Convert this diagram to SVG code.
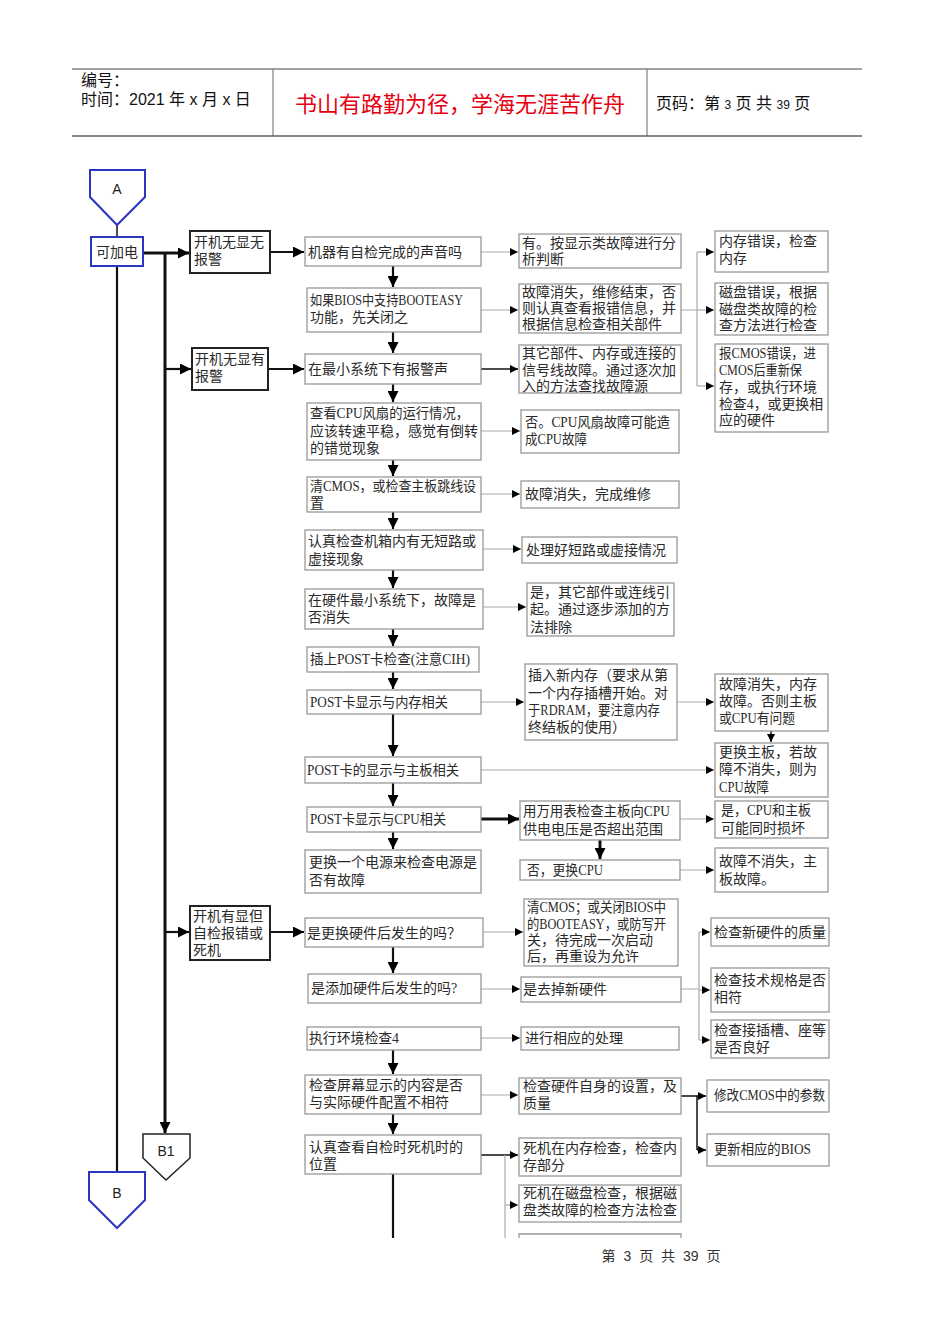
<svg xmlns="http://www.w3.org/2000/svg" width="950" height="1344" viewBox="0 0 950 1344">
<style>
.box{fill:#fff;stroke:#999;stroke-width:1.3}
.tbox{fill:#fff;stroke:#222;stroke-width:2}
.bbox{fill:#fff;stroke:#2a35c0;stroke-width:2}
.t{font-family:"Liberation Serif","Noto Sans CJK SC",serif;font-size:14px;fill:#2a2a2a}
.h{font-family:"Liberation Sans","Noto Sans CJK SC",sans-serif;fill:#111}
.g{stroke:#aaa;stroke-width:1.2;fill:none}
.k1{stroke:#111;stroke-width:1.5;fill:none}
.k2{stroke:#111;stroke-width:2.2;fill:none}
.k3{stroke:#111;stroke-width:3;fill:none}
.ga{stroke:#aaa;stroke-width:1.2;fill:none;marker-end:url(#as)}
.k1a{stroke:#111;stroke-width:1.5;fill:none;marker-end:url(#as)}
.k2a{stroke:#111;stroke-width:2.2;fill:none;marker-end:url(#al)}
.k3a{stroke:#111;stroke-width:3;fill:none;marker-end:url(#al)}
.lbl{font-family:"Liberation Sans",sans-serif;font-size:14px;fill:#222;text-anchor:middle}
</style>
<defs>
<marker id="al" viewBox="0 0 10 10" refX="10" refY="5" markerWidth="11" markerHeight="11" markerUnits="userSpaceOnUse" orient="auto"><path d="M0,0 L10,5 L0,10 z" fill="#000"/></marker>
<marker id="as" viewBox="0 0 10 10" refX="10" refY="5" markerWidth="8" markerHeight="8" markerUnits="userSpaceOnUse" orient="auto"><path d="M0,0 L10,5 L0,10 z" fill="#000"/></marker>
</defs>
<rect width="950" height="1344" fill="#fff"/>

<g id="header">
<path d="M72,69 H862" stroke="#444" stroke-width="1"/>
<path d="M72,136 H862" stroke="#888" stroke-width="2"/>
<path d="M273,69 V136 M647,69 V136" stroke="#666" stroke-width="1"/>
<text class="h" x="81" y="86" font-size="16">编号：</text>
<text class="h" x="81" y="105" font-size="16">时间：2021 年 x 月 x 日</text>
<text x="460" y="112" font-family="Liberation Sans,Noto Sans CJK SC,sans-serif" font-size="22" fill="#e60012" text-anchor="middle">书山有路勤为径，学海无涯苦作舟</text>
<text class="h" x="656" y="109" font-size="16">页码：第 <tspan font-size="12">3</tspan> 页  共 <tspan font-size="12">39</tspan> 页</text>
</g>

<g id="connectors">
<path class="k1" d="M117,225 V237"/>
<path class="k2" d="M117,266 V1172"/>
<path class="k3a" d="M143,253 H189"/>
<path class="k3a" d="M165,253 V1133"/>
<path class="k2a" d="M165,369 H191"/>
<path class="k2a" d="M165,932 H189"/>
<path class="k2a" d="M270,252 H304"/>
<path class="k2a" d="M268,369 H304"/>
<path class="k2a" d="M270,932 H304"/>
<path class="k2a" d="M393,266 V287"/>
<path class="k2a" d="M393,332 V353"/>
<path class="k2a" d="M393,384 V402"/>
<path class="k2a" d="M393,460 V476"/>
<path class="k2a" d="M393,512 V529"/>
<path class="k2a" d="M393,570 V588"/>
<path class="k2a" d="M393,629 V646"/>
<path class="k2a" d="M393,672 V689"/>
<path class="k2a" d="M393,714 V756"/>
<path class="k2a" d="M393,783 V806"/>
<path class="k2a" d="M393,832 V849"/>
<path class="k2a" d="M393,947 V973"/>
<path class="k2a" d="M393,1050 V1074"/>
<path class="k2a" d="M393,1114 V1134"/>
<path class="k2" d="M393,1174 V1238"/>
<path class="ga" d="M481,252 H518"/>
<path class="ga" d="M481,310 H518"/>
<path class="k1a" d="M481,369 H518"/>
<path class="ga" d="M481,431 H520"/>
<path class="ga" d="M481,494 H520"/>
<path class="ga" d="M483,549 H521"/>
<path class="ga" d="M483,607 H526"/>
<path class="ga" d="M481,702 H524"/>
<path class="ga" d="M677,702 H714"/>
<path class="ga" d="M481,770 H714"/>
<path class="k1a" d="M771,731 V742"/>
<path class="k3a" d="M481,819 H519"/>
<path class="k3a" d="M600,840 V859"/>
<path class="ga" d="M680,819 H714"/>
<path class="ga" d="M680,870 H714"/>
<path class="g" d="M681,310 H697 M697,252 V386"/>
<path class="ga" d="M697,252 H714"/>
<path class="ga" d="M697,310 H714"/>
<path class="ga" d="M697,386 H714"/>
<path class="ga" d="M483,932 H523"/>
<path class="ga" d="M481,989 H520"/>
<path class="ga" d="M481,1038 H520"/>
<path class="g" d="M681,989 H699 M699,932 V1040"/>
<path class="ga" d="M699,932 H710"/>
<path class="ga" d="M699,990 H710"/>
<path class="ga" d="M699,1040 H710"/>
<path class="ga" d="M481,1095 H518"/>
<path class="k1" d="M681,1096 H697 V1150"/>
<path class="k1a" d="M697,1096 H706"/>
<path class="k1a" d="M697,1150 H706"/>
<path class="k1" d="M481,1155 H505"/>
<path class="k1a" d="M505,1155 H518"/>
<path class="g" d="M505,1155 V1238"/>
<path class="ga" d="M505,1205 H518"/>
</g>

<g id="nA"><polygon class="bbox" points="90,170 145,170 145,197 117,225 90,197"/><text class="lbl" x="117" y="194">A</text></g>
<g id="nB"><polygon class="bbox" points="89,1172 145,1172 145,1200 117,1228 89,1200"/><text class="lbl" x="117" y="1198">B</text></g>
<g id="nB1"><polygon fill="#fff" stroke="#222" stroke-width="1.5" points="143,1134 190,1134 190,1158 166,1180 143,1158"/><text class="lbl" x="166" y="1156">B1</text></g>
<g id="n0"><rect class="bbox" x="91" y="237" width="52" height="29"/><text class="t" x="117" y="257" text-anchor="middle">可加电</text></g>

<g id="L1"><rect class="tbox" x="190" y="231" width="80" height="42"/><text class="t" x="194" y="247">开机无显无</text><text class="t" x="194" y="264">报警</text></g>
<g id="L2"><rect class="tbox" x="192" y="348" width="76" height="42"/><text class="t" x="195" y="364">开机无显有</text><text class="t" x="195" y="381">报警</text></g>
<g id="L3"><rect class="tbox" x="190" y="906" width="80" height="54"/><text class="t" x="193" y="921">开机有显但</text><text class="t" x="193" y="938">自检报错或</text><text class="t" x="193" y="955">死机</text></g>

<g id="M1"><rect class="box" x="305" y="237" width="176" height="29"/><text class="t" x="308" y="257">机器有自检完成的声音吗</text></g>
<g id="M2"><rect class="box" x="307" y="288" width="174" height="44"/><text class="t" x="310" y="305" textLength="153" lengthAdjust="spacingAndGlyphs">如果BIOS中支持BOOTEASY</text><text class="t" x="310" y="322">功能，先关闭之</text></g>
<g id="M3"><rect class="box" x="305" y="354" width="176" height="30"/><text class="t" x="308" y="374">在最小系统下有报警声</text></g>
<g id="M4"><rect class="box" x="307" y="403" width="174" height="57"/><text class="t" x="310" y="418" textLength="159" lengthAdjust="spacingAndGlyphs">查看CPU风扇的运行情况，</text><text class="t" x="310" y="436">应该转速平稳，感觉有倒转</text><text class="t" x="310" y="453">的错觉现象</text></g>
<g id="M5"><rect class="box" x="307" y="477" width="174" height="35"/><text class="t" x="310" y="491" textLength="166" lengthAdjust="spacingAndGlyphs">清CMOS，或检查主板跳线设</text><text class="t" x="310" y="508">置</text></g>
<g id="M6"><rect class="box" x="305" y="530" width="178" height="40"/><text class="t" x="308" y="546">认真检查机箱内有无短路或</text><text class="t" x="308" y="564">虚接现象</text></g>
<g id="M7"><rect class="box" x="305" y="589" width="178" height="40"/><text class="t" x="308" y="605">在硬件最小系统下，故障是</text><text class="t" x="308" y="622">否消失</text></g>
<g id="M8"><rect class="box" x="307" y="647" width="172" height="25"/><text class="t" x="310" y="664" textLength="160" lengthAdjust="spacingAndGlyphs">插上POST卡检查(注意CIH)</text></g>
<g id="M9"><rect class="box" x="307" y="690" width="174" height="24"/><text class="t" x="310" y="707" textLength="138" lengthAdjust="spacingAndGlyphs">POST卡显示与内存相关</text></g>
<g id="M10"><rect class="box" x="305" y="757" width="176" height="26"/><text class="t" x="307" y="775" textLength="152" lengthAdjust="spacingAndGlyphs">POST卡的显示与主板相关</text></g>
<g id="M11"><rect class="box" x="307" y="807" width="174" height="25"/><text class="t" x="310" y="824" textLength="136" lengthAdjust="spacingAndGlyphs">POST卡显示与CPU相关</text></g>
<g id="M12"><rect class="box" x="305" y="850" width="176" height="43"/><text class="t" x="309" y="867">更换一个电源来检查电源是</text><text class="t" x="309" y="885">否有故障</text></g>
<g id="M13"><rect class="box" x="305" y="918" width="178" height="29"/><text class="t" x="307" y="938">是更换硬件后发生的吗？</text></g>
<g id="M14"><rect class="box" x="308" y="974" width="173" height="29"/><text class="t" x="311" y="993">是添加硬件后发生的吗?</text></g>
<g id="M15"><rect class="box" x="307" y="1027" width="174" height="23"/><text class="t" x="309" y="1043" textLength="90" lengthAdjust="spacingAndGlyphs">执行环境检查4</text></g>
<g id="M16"><rect class="box" x="305" y="1075" width="176" height="39"/><text class="t" x="309" y="1090">检查屏幕显示的内容是否</text><text class="t" x="309" y="1107">与实际硬件配置不相符</text></g>
<g id="M17"><rect class="box" x="305" y="1135" width="176" height="39"/><text class="t" x="309" y="1152">认真查看自检时死机时的</text><text class="t" x="309" y="1169">位置</text></g>

<g id="R1"><rect class="box" x="519" y="234" width="162" height="34"/><text class="t" x="522" y="248">有。按显示类故障进行分</text><text class="t" x="522" y="264">析判断</text></g>
<g id="R2"><rect class="box" x="519" y="284" width="162" height="49"/><text class="t" x="522" y="297">故障消失，维修结束，否</text><text class="t" x="522" y="313">则认真查看报错信息，并</text><text class="t" x="522" y="329">根据信息检查相关部件</text></g>
<g id="R3"><rect class="box" x="519" y="345" width="162" height="48"/><text class="t" x="522" y="358">其它部件、内存或连接的</text><text class="t" x="522" y="375">信号线故障。通过逐次加</text><text class="t" x="522" y="391">入的方法查找故障源</text></g>
<g id="R4"><rect class="box" x="521" y="410" width="158" height="43"/><text class="t" x="525" y="427" textLength="145" lengthAdjust="spacingAndGlyphs">否。CPU风扇故障可能造</text><text class="t" x="525" y="444" textLength="62" lengthAdjust="spacingAndGlyphs">成CPU故障</text></g>
<g id="R5"><rect class="box" x="521" y="481" width="158" height="27"/><text class="t" x="525" y="499">故障消失，完成维修</text></g>
<g id="R6"><rect class="box" x="522" y="537" width="155" height="26"/><text class="t" x="526" y="555">处理好短路或虚接情况</text></g>
<g id="R7"><rect class="box" x="527" y="583" width="147" height="53"/><text class="t" x="530" y="597">是，其它部件或连线引</text><text class="t" x="530" y="614">起。通过逐步添加的方</text><text class="t" x="530" y="632">法排除</text></g>
<g id="R8"><rect class="box" x="525" y="664" width="152" height="76"/><text class="t" x="528" y="680">插入新内存（要求从第</text><text class="t" x="528" y="698">一个内存插槽开始。对</text><text class="t" x="528" y="715" textLength="132" lengthAdjust="spacingAndGlyphs">于RDRAM，要注意内存</text><text class="t" x="528" y="732">终结板的使用）</text></g>
<g id="R9"><rect class="box" x="520" y="801" width="160" height="39"/><text class="t" x="523" y="816" textLength="147" lengthAdjust="spacingAndGlyphs">用万用表检查主板向CPU</text><text class="t" x="523" y="834">供电电压是否超出范围</text></g>
<g id="R10"><rect class="box" x="520" y="860" width="160" height="20"/><text class="t" x="527" y="875" textLength="76" lengthAdjust="spacingAndGlyphs">否，更换CPU</text></g>
<g id="R11"><rect class="box" x="524" y="899" width="154" height="67"/><text class="t" x="527" y="912" textLength="139" lengthAdjust="spacingAndGlyphs">清CMOS；或关闭BIOS中</text><text class="t" x="527" y="929" textLength="139" lengthAdjust="spacingAndGlyphs">的BOOTEASY，或防写开</text><text class="t" x="527" y="945">关，待完成一次启动</text><text class="t" x="527" y="961">后，再重设为允许</text></g>
<g id="R12"><rect class="box" x="521" y="977" width="160" height="25"/><text class="t" x="523" y="994">是去掉新硬件</text></g>
<g id="R13"><rect class="box" x="521" y="1027" width="158" height="23"/><text class="t" x="525" y="1043">进行相应的处理</text></g>
<g id="R14"><rect class="box" x="519" y="1078" width="162" height="36"/><text class="t" x="523" y="1091">检查硬件自身的设置，及</text><text class="t" x="523" y="1108">质量</text></g>
<g id="R15"><rect class="box" x="519" y="1138" width="162" height="38"/><text class="t" x="523" y="1153">死机在内存检查，检查内</text><text class="t" x="523" y="1170">存部分</text></g>
<g id="R16"><rect class="box" x="519" y="1185" width="162" height="37"/><text class="t" x="523" y="1198">死机在磁盘检查，根据磁</text><text class="t" x="523" y="1215">盘类故障的检查方法检查</text></g>
<g id="R17"><path d="M519,1238 V1234 H681 V1238" fill="none" stroke="#999" stroke-width="1.3"/></g>

<g id="Q1"><rect class="box" x="715" y="231" width="113" height="41"/><text class="t" x="719" y="246">内存错误，检查</text><text class="t" x="719" y="263">内存</text></g>
<g id="Q2"><rect class="box" x="715" y="283" width="113" height="52"/><text class="t" x="719" y="297">磁盘错误，根据</text><text class="t" x="719" y="314">磁盘类故障的检</text><text class="t" x="719" y="330">查方法进行检查</text></g>
<g id="Q3"><rect class="box" x="715" y="344" width="113" height="88"/><text class="t" x="719" y="358" textLength="97" lengthAdjust="spacingAndGlyphs">报CMOS错误，进</text><text class="t" x="719" y="375" textLength="83" lengthAdjust="spacingAndGlyphs">CMOS后重新保</text><text class="t" x="719" y="392">存，或执行环境</text><text class="t" x="719" y="409" textLength="104" lengthAdjust="spacingAndGlyphs">检查4，或更换相</text><text class="t" x="719" y="425">应的硬件</text></g>
<g id="Q4"><rect class="box" x="715" y="674" width="113" height="57"/><text class="t" x="719" y="689">故障消失，内存</text><text class="t" x="719" y="706">故障。否则主板</text><text class="t" x="719" y="723" textLength="76" lengthAdjust="spacingAndGlyphs">或CPU有问题</text></g>
<g id="Q5"><rect class="box" x="715" y="743" width="113" height="54"/><text class="t" x="719" y="757">更换主板，若故</text><text class="t" x="719" y="774">障不消失，则为</text><text class="t" x="719" y="792" textLength="50" lengthAdjust="spacingAndGlyphs">CPU故障</text></g>
<g id="Q6"><rect class="box" x="715" y="801" width="113" height="37"/><text class="t" x="721" y="815" textLength="90" lengthAdjust="spacingAndGlyphs">是，CPU和主板</text><text class="t" x="721" y="833">可能同时损坏</text></g>
<g id="Q7"><rect class="box" x="715" y="848" width="113" height="44"/><text class="t" x="719" y="866">故障不消失，主</text><text class="t" x="719" y="884">板故障。</text></g>
<g id="Q8"><rect class="box" x="711" y="918" width="118" height="28"/><text class="t" x="714" y="937">检查新硬件的质量</text></g>
<g id="Q9"><rect class="box" x="711" y="968" width="118" height="44"/><text class="t" x="714" y="985">检查技术规格是否</text><text class="t" x="714" y="1002">相符</text></g>
<g id="Q10"><rect class="box" x="711" y="1020" width="118" height="38"/><text class="t" x="714" y="1035">检查接插槽、座等</text><text class="t" x="714" y="1052">是否良好</text></g>
<g id="Q11"><rect class="box" x="707" y="1080" width="122" height="32"/><text class="t" x="714" y="1100" textLength="111" lengthAdjust="spacingAndGlyphs">修改CMOS中的参数</text></g>
<g id="Q12"><rect class="box" x="707" y="1134" width="122" height="32"/><text class="t" x="714" y="1154" textLength="97" lengthAdjust="spacingAndGlyphs">更新相应的BIOS</text></g>

<g id="footer"><text x="661" y="1261" font-family="Liberation Sans,Noto Sans CJK SC,sans-serif" font-size="14" word-spacing="4" fill="#333" text-anchor="middle">第 3 页 共 39 页</text></g>
</svg>
